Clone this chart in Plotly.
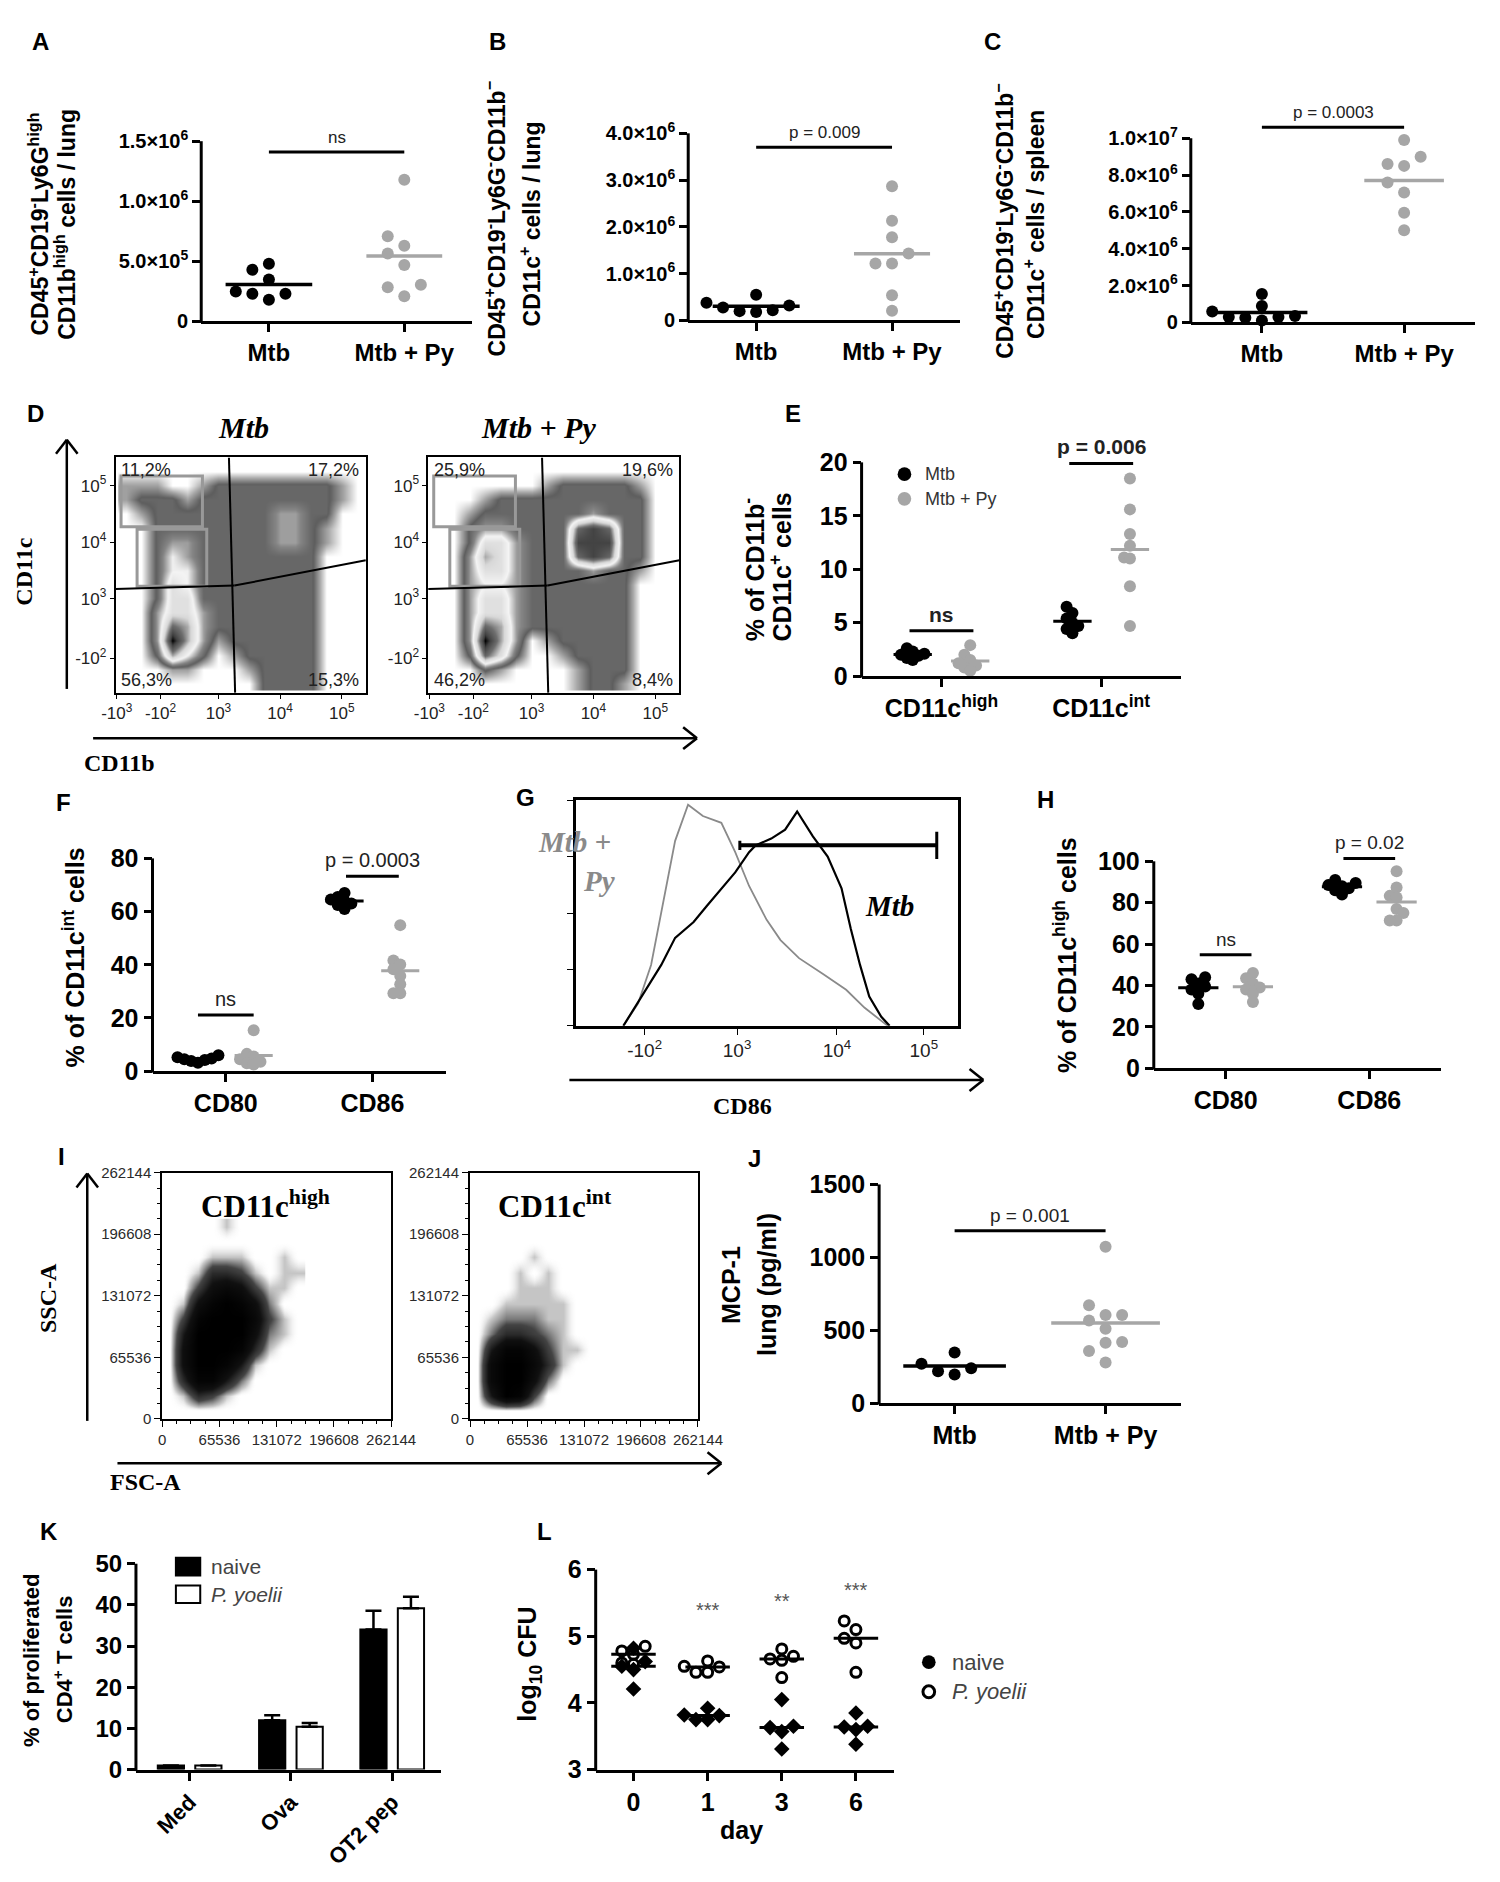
import math
import statistics
import plotly.graph_objects as go

# ======================= DATA =======================
cat_labels = ["Mtb", "Mtb + Py"]

# A: CD45+CD19-Ly6G-high CD11b-high cells / lung
A_mtb = [4.8e5, 4.3e5, 3.5e5, 2.3e5, 2.3e5, 2.5e5, 1.8e5]
A_py = [11.8e5, 7.1e5, 6.3e5, 5.65e5, 4.7e5, 3.05e5, 2.85e5, 2.1e5]
A_ticks = [0, 5e5, 1e6, 1.5e6]
A_ticktext = ["0", "5.0×10<sup>5</sup>", "1.0×10<sup>6</sup>", "1.5×10<sup>6</sup>"]
A_sig = ("ns", 1.41e6)

# B: CD11c+ cells / lung
B_mtb = [0.55e6, 0.38e6, 0.32e6, 0.28e6, 0.22e6, 0.20e6, 0.18e6]
B_py = [2.87e6, 2.13e6, 1.78e6, 1.43e6, 1.22e6, 1.22e6, 0.54e6, 0.21e6]
B_ticks = [0, 1e6, 2e6, 3e6, 4e6]
B_ticktext = ["0", "1.0×10<sup>6</sup>", "2.0×10<sup>6</sup>", "3.0×10<sup>6</sup>", "4.0×10<sup>6</sup>"]
B_sig = ("p = 0.009", 3.7e6)

# C: CD11c+ cells / spleen
C_mtb = [1.55e6, 0.9e6, 0.6e6, 0.35e6, 0.25e6, 0.3e6, 0.1e6, 0.3e6]
C_py = [9.9e6, 9.0e6, 8.6e6, 8.5e6, 7.6e6, 7.05e6, 5.95e6, 5.0e6]
C_ticks = [0, 2e6, 4e6, 6e6, 8e6, 1e7]
C_ticktext = ["0", "2.0×10<sup>6</sup>", "4.0×10<sup>6</sup>", "6.0×10<sup>6</sup>",
              "8.0×10<sup>6</sup>", "1.0×10<sup>7</sup>"]
C_sig = ("p = 0.0003", 1.06e7)

# D: flow density (estimated relative density on a grid, rows listed top -> bottom)
D_x = [1.5, 1.75, 2.0, 2.25, 2.5, 2.75, 3.0, 3.25, 3.5, 3.75, 4.0, 4.25, 4.5, 4.75, 5.0, 5.25]
D_y_top_down = [5.25, 5.0, 4.75, 4.5, 4.25, 4.0, 3.75, 3.5, 3.25, 3.0, 2.75, 2.5, 2.25, 2.0, 1.75, 1.5]
D_mtb = [
    [0, 0, 0, 0, 0, 0, 0, 0, 0, 0, 0, 0, 0, 0, 0, 0],
    [1, 1, 1, 0, 0, 1, 2, 2, 2, 2, 2, 2, 2, 2, 1, 0],
    [1, 2, 2, 2, 1, 2, 2, 2, 2, 2, 2, 2, 2, 2, 1, 0],
    [0, 1, 2, 2, 2, 2, 2, 2, 2, 2, 3, 3, 2, 2, 0, 0],
    [0, 0, 2, 2, 2, 2, 2, 2, 2, 2, 3, 3, 2, 1, 0, 0],
    [0, 0, 2, 3, 3, 2, 2, 2, 2, 2, 3, 3, 2, 1, 0, 0],
    [0, 0, 2, 4, 3, 2, 2, 2, 2, 2, 2, 2, 2, 0, 0, 0],
    [0, 0, 2, 4, 4, 2, 2, 2, 2, 2, 2, 2, 2, 0, 0, 0],
    [0, 0, 2, 5, 4, 2, 2, 2, 2, 2, 2, 2, 2, 0, 0, 0],
    [0, 0, 2, 5, 5, 2, 2, 2, 2, 2, 2, 2, 2, 0, 0, 0],
    [0, 0, 3, 5, 5, 3, 2, 2, 2, 2, 2, 2, 2, 0, 0, 0],
    [0, 0, 3, 7, 6, 3, 2, 2, 2, 2, 2, 2, 2, 0, 0, 0],
    [0, 0, 3, 9, 6, 3, 1, 2, 2, 2, 2, 2, 2, 0, 0, 0],
    [0, 0, 2, 6, 4, 2, 0, 1, 2, 2, 2, 2, 2, 0, 0, 0],
    [0, 0, 0, 1, 1, 0, 0, 0, 1, 2, 2, 2, 2, 0, 0, 0],
    [0, 0, 0, 0, 0, 0, 0, 0, 0, 2, 2, 2, 2, 0, 0, 0],
]
D_py = [
    [0, 0, 0, 0, 0, 0, 0, 0, 0, 0, 0, 0, 0, 0, 0, 0],
    [0, 0, 0, 0, 0, 0, 0, 1, 2, 2, 2, 2, 2, 1, 0, 0],
    [0, 0, 0, 1, 2, 2, 2, 2, 2, 2, 2, 2, 2, 2, 0, 0],
    [0, 0, 1, 2, 2, 2, 2, 2, 2, 2, 3, 2, 2, 2, 0, 0],
    [0, 0, 2, 3, 3, 2, 2, 2, 2, 7, 8, 7, 2, 2, 0, 0],
    [0, 0, 2, 5, 5, 3, 2, 2, 2, 8, 8, 8, 2, 2, 0, 0],
    [0, 0, 3, 6, 5, 3, 2, 2, 2, 7, 8, 7, 2, 2, 0, 0],
    [0, 0, 3, 5, 5, 3, 2, 2, 2, 2, 3, 2, 2, 1, 0, 0],
    [0, 0, 3, 4, 4, 3, 2, 2, 2, 2, 2, 2, 2, 0, 0, 0],
    [0, 0, 3, 5, 5, 3, 2, 2, 2, 2, 2, 2, 2, 0, 0, 0],
    [0, 0, 3, 5, 5, 3, 2, 2, 2, 2, 2, 2, 2, 0, 0, 0],
    [0, 0, 3, 7, 6, 3, 2, 2, 2, 2, 2, 2, 2, 0, 0, 0],
    [0, 0, 3, 9, 6, 3, 0, 1, 2, 2, 2, 2, 2, 0, 0, 0],
    [0, 0, 2, 7, 5, 2, 0, 0, 1, 2, 2, 2, 2, 0, 0, 0],
    [0, 0, 0, 2, 1, 0, 0, 0, 0, 1, 2, 2, 2, 0, 0, 0],
    [0, 0, 0, 0, 0, 0, 0, 0, 0, 1, 2, 2, 1, 0, 0, 0],
]
D_xtick_vals = [1.35, 2.06, 3, 4, 5]
D_xtick_text = ["-10<sup>3</sup>", "-10<sup>2</sup>", "10<sup>3</sup>", "10<sup>4</sup>", "10<sup>5</sup>"]
D_ytick_vals = [1.94, 3, 4, 5]
D_ytick_text = ["-10<sup>2</sup>", "10<sup>3</sup>", "10<sup>4</sup>", "10<sup>5</sup>"]
D_pct_mtb = ["11,2%", "17,2%", "56,3%", "15,3%"]
D_pct_py = ["25,9%", "19,6%", "46,2%", "8,4%"]
D_gate_high = (1.42, 2.74, 4.27, 5.17)
D_gate_int = (1.68, 2.81, 3.22, 4.23)
D_quad_v = [(3.17, 5.5), (3.27, 1.33)]
D_quad_h = [(1.33, 3.17), (3.26, 3.23), (5.39, 3.68)]

# E: % of CD11b- CD11c+ cells
E_cats = ["CD11c<sup>high</sup>", "CD11c<sup>int</sup>"]
E_high_mtb = [2.6, 2.3, 2.1, 2.0, 1.9, 1.7, 1.5]
E_high_py = [2.9, 2.0, 1.5, 1.2, 1.0, 0.8, 0.5]
E_int_mtb = [6.5, 5.9, 5.4, 5.0, 4.7, 4.4, 4.0]
E_int_py = [18.5, 15.6, 13.3, 12.2, 11.1, 11.0, 8.4, 4.7]
E_sig = [("ns", 4.24), ("p = 0.006", 19.9)]

# F: % of CD11c-int cells
F_cats = ["CD80", "CD86"]
F_cd80_mtb = [6.0, 5.2, 4.8, 4.5, 4.2, 3.8, 3.2]
F_cd80_py = [15.4, 6.5, 5.5, 4.5, 3.5, 3.0, 2.5]
F_cd86_mtb = [67, 65.5, 64.5, 64, 63, 62.5, 61]
F_cd86_py = [54.9, 41.6, 40.1, 38.3, 35.8, 32.7, 29.3, 29.3]
F_sig = [("ns", 21.1), ("p = 0.0003", 73.3)]

# G: CD86 histograms (% of max)
G_mtb_x = [0.77, 0.97, 1.18, 1.33, 1.53, 1.67, 1.83, 1.98, 2.13, 2.2, 2.37, 2.52, 2.65,
           2.82, 2.98, 3.13, 3.23, 3.33, 3.43, 3.56, 3.65]
G_mtb_y = [0, 13, 27, 39, 46, 53, 61, 68, 77, 80, 83, 87, 95, 84, 75, 61, 43, 27, 13, 4, 0]
G_py_x = [0.77, 0.93, 1.07, 1.22, 1.33, 1.47, 1.63, 1.83, 1.98, 2.13, 2.32, 2.47, 2.67,
          2.93, 3.18, 3.38, 3.53, 3.63]
G_py_y = [0, 10, 27, 59, 82, 98, 93, 90, 77, 62, 47, 38, 30, 23, 16, 8, 3, 0]
G_tick_vals = [1, 2, 3.08, 4.02]
G_tick_text = ["-10<sup>2</sup>", "10<sup>3</sup>", "10<sup>4</sup>", "10<sup>5</sup>"]
G_gate = (2.03, 4.16, 80)

# H: % of CD11c-high cells
H_cd80_mtb = [44, 43, 41, 39.5, 38, 36, 31]
H_cd80_py = [46, 43.5, 41, 39, 38, 36, 32]
H_cd86_mtb = [91, 89.5, 88.5, 88, 87, 86, 84]
H_cd86_py = [95.2, 87.3, 83.3, 82.5, 77, 75, 71.4, 71.4]
H_sig = [("ns", 54.8), ("p = 0.02", 101.4)]

# I: FSC/SSC density (bins of 16384, rows bottom -> top)
I_x = [8192, 24576, 40960, 57344, 73728, 90112, 106496, 122880, 139264, 155648]
I_y = [8192, 24576, 40960, 57344, 73728, 90112, 106496, 122880, 139264, 155648,
       172032, 188416, 204800]
I_high = [
    [0, 0, 0, 0, 0, 0, 0, 0, 0, 0],
    [0, 1, 4, 3, 1, 0, 0, 0, 0, 0],
    [0, 4, 8, 8, 5, 2, 0, 0, 0, 0],
    [0, 6, 9, 9, 8, 5, 1, 0, 0, 0],
    [0, 6, 9, 9, 9, 8, 4, 1, 0, 0],
    [0, 5, 9, 9, 9, 9, 6, 2, 1, 0],
    [0, 3, 8, 9, 9, 9, 7, 3, 1, 0],
    [0, 1, 6, 8, 9, 8, 6, 2, 0, 0],
    [0, 0, 3, 6, 7, 6, 3, 1, 1, 0],
    [0, 0, 1, 4, 4, 3, 1, 0, 1, 1],
    [0, 0, 0, 1, 1, 1, 0, 0, 1, 0],
    [0, 0, 0, 0, 0, 0, 0, 0, 0, 0],
    [0, 0, 0, 0, 1, 0, 0, 0, 0, 0],
]
I_int = [
    [0, 0, 0, 0, 0, 0, 0, 0, 0, 0],
    [0, 5, 9, 8, 3, 0, 0, 0, 0, 0],
    [0, 7, 9, 9, 6, 2, 0, 0, 0, 0],
    [0, 7, 9, 9, 7, 4, 1, 0, 0, 0],
    [0, 5, 8, 8, 6, 3, 1, 1, 0, 0],
    [0, 2, 4, 4, 3, 2, 1, 0, 0, 0],
    [0, 1, 2, 2, 2, 1, 1, 0, 0, 0],
    [0, 0, 1, 1, 1, 1, 1, 0, 0, 0],
    [0, 0, 0, 1, 1, 1, 0, 0, 0, 0],
    [0, 0, 0, 1, 0, 1, 0, 0, 0, 0],
    [0, 0, 0, 0, 1, 0, 0, 0, 0, 0],
    [0, 0, 0, 0, 0, 0, 0, 0, 0, 0],
    [0, 0, 0, 0, 0, 0, 0, 0, 0, 0],
]

# J: MCP-1 lung (pg/ml)
J_mtb = [348, 240, 196, 218, 270]
J_py = [1073, 672, 605, 605, 567, 510, 414, 420, 358, 279]
J_sig = ("p = 0.001", 1182)

# K: % proliferated CD4+ T cells
K_cats = ["Med", "Ova", "OT2 pep"]
K_naive = [1.0, 12.0, 34.0]
K_naive_err = [0.0, 1.2, 4.6]
K_py = [1.0, 10.4, 39.2]
K_py_err = [0.0, 0.9, 2.8]

# L: log10 CFU
L_days = ["0", "1", "3", "6"]
L_naive = [[4.82, 4.62, 4.55, 4.5, 4.21],
           [3.92, 3.82, 3.81, 3.75, 3.75],
           [4.05, 3.65, 3.63, 3.57, 3.31],
           [3.85, 3.65, 3.64, 3.6, 3.38]]
L_py = [[4.85, 4.78, 4.73, 4.6, 4.58],
        [4.63, 4.55, 4.54, 4.46, 4.46],
        [4.81, 4.7, 4.66, 4.64, 4.38],
        [5.23, 5.1, 4.97, 4.9, 4.46]]
L_stars = ["", "***", "**", "***"]
L_star_y = [None, 5.4, 5.53, 5.69]

# ======================= STYLE / HELPERS =======================
W, H = 1500, 1882
SANS = "Liberation Sans Narrow, Arial Narrow, Liberation Sans, Arial, sans-serif"
SANSW = "Liberation Sans, Arial, sans-serif"
SERIF = "Liberation Serif, Times New Roman, serif"
GRAY = "#a6a6a6"
ROT_DX = -19   # compensation for rotated annotation placement

layout = dict(width=W, height=H, margin=dict(l=0, r=0, t=0, b=0),
              paper_bgcolor="white", plot_bgcolor="rgba(0,0,0,0)", showlegend=False,
              barmode="group", bargap=0.26, bargroupgap=0.3, hovermode=False)
shapes, annos, traces = [], [], []
_n = [0]


def px(x):
    return x / W


def py(y):
    return 1 - y / H


def new_axes(x0, x1, ytop, ybot, xo, yo):
    _n[0] += 1
    s = "" if _n[0] == 1 else str(_n[0])
    layout["xaxis" + s] = dict(domain=[px(x0), px(x1)], anchor="y" + s, **xo)
    layout["yaxis" + s] = dict(domain=[py(ybot), py(ytop)], anchor="x" + s, **yo)
    return "x" + s, "y" + s


def text(x, y, t, size, family=SANSW, color="black", bold=True, italic=False,
         xanchor="center", yanchor="middle", angle=0):
    if angle:
        x = x + ROT_DX
    annos.append(dict(xref="paper", yref="paper", x=px(x), y=py(y), text=t, showarrow=False,
                      xanchor=xanchor, yanchor=yanchor, textangle=angle,
                      font=dict(family=family, size=size, color=color,
                                weight="bold" if bold else "normal",
                                style="italic" if italic else "normal")))


def pline(x0, y0, x1, y1, w=2.5, color="black"):
    shapes.append(dict(type="line", xref="paper", yref="paper", x0=px(x0), y0=py(y0),
                       x1=px(x1), y1=py(y1), line=dict(color=color, width=w)))


def arrow(x0, y0, x1, y1, w=2.5, head=18):
    pline(x0, y0, x1, y1, w)
    ang = math.atan2(y1 - y0, x1 - x0)
    for sgn in (1, -1):
        a = ang + math.pi + sgn * math.radians(38)
        pline(x1, y1, x1 + head * math.cos(a), y1 + head * math.sin(a), w)


def swarm(vals, thr, step):
    order = sorted(range(len(vals)), key=lambda i: vals[i])
    placed, offs = [], [0.0] * len(vals)
    for i in order:
        v, k, done = vals[i], 0, False
        while not done:
            for c in ([0] if k == 0 else [-k, k]):
                o = c * step
                if all(abs(v - pv) >= thr or abs(o - po) > step * 0.5 for pv, po in placed):
                    offs[i] = o
                    placed.append((v, o))
                    done = True
                    break
            k += 1
    return offs


def prism(x0, x1, zero, top, ymin, ytop, yext, xr, yt, ytt, cpos, ctext,
          tsize=24, csize=24, tfam=SANS, cfam=SANS, tickangle=0):
    ppy = (zero - top) / (ytop - ymin)
    ext_px = zero - (yext - ymin) * ppy
    ppx = (x1 - x0) / (xr[1] - xr[0])
    xo = dict(range=xr, showline=True, linewidth=3, linecolor="black", ticks="outside",
              tickwidth=3, ticklen=8, tickcolor="black", tickmode="array", tickvals=cpos,
              ticktext=ctext, tickangle=tickangle,
              tickfont=dict(family=cfam, size=csize, color="black", weight="bold"),
              showgrid=False, zeroline=False)
    yo = dict(range=[ymin, yext], showline=False, ticks="outside", tickwidth=3, ticklen=8,
              tickcolor="black", tickmode="array", tickvals=yt, ticktext=ytt,
              tickfont=dict(family=tfam, size=tsize, color="black", weight="bold"),
              showgrid=False, zeroline=False)
    xa, ya = new_axes(x0, x1, ext_px, zero, xo, yo)
    pline(x0, zero + 1.5, x0, top, 3)
    return dict(xa=xa, ya=ya, ppx=ppx, ppy=ppy)


def dots(P, xc, vals, color, thr_px=12, step_px=16, size=12, symbol="circle", hollow=False):
    offs = swarm(vals, thr_px / P["ppy"], step_px / P["ppx"])
    if hollow:
        marker = dict(size=size, symbol="circle-open", color=color, line=dict(width=3, color=color))
    else:
        marker = dict(size=size, symbol=symbol, color=color, line=dict(width=0))
    traces.append(go.Scatter(x=[xc + o for o in offs], y=vals, mode="markers", marker=marker,
                             xaxis=P["xa"], yaxis=P["ya"], cliponaxis=False, hoverinfo="skip"))


def cline(P, xc, half, v, color, w=3.5):
    shapes.append(dict(type="line", xref=P["xa"], yref=P["ya"], x0=xc - half, x1=xc + half,
                       y0=v, y1=v, line=dict(color=color, width=w)))


def sig(P, xl, xr_, y, t, size=18, bold=False):
    shapes.append(dict(type="line", xref=P["xa"], yref=P["ya"], x0=xl, x1=xr_, y0=y, y1=y,
                       line=dict(color="black", width=3)))
    annos.append(dict(xref=P["xa"], yref=P["ya"], x=(xl + xr_) / 2, y=y, text=t, showarrow=False,
                      yanchor="bottom", yshift=3,
                      font=dict(family=SANS, size=size, color="#222",
                                weight="bold" if bold else "normal")))


mean = statistics.mean
median = statistics.median

# ======================= A, B, C =======================
for (x0, x1, zero, top, ytop, yext, yt, ytt, mtb, pyv, sg) in [
        (184, 462, 304, 121, 1.5e6, 1.5e6, A_ticks, A_ticktext, A_mtb, A_py, A_sig),
        (684, 963, 303, 113, 4e6, 4e6, B_ticks, B_ticktext, B_mtb, B_py, B_sig),
        (1200, 1492, 305, 118, 1e7, 1.08e7, C_ticks, C_ticktext, C_mtb, C_py, C_sig)]:
    P = prism(x0, x1, zero, top, 0, ytop, yext, [0.5, 2.5], yt, ytt, [1, 2], cat_labels,
              tsize=20, csize=24)
    dots(P, 1, mtb, "black", 12, 17, 12)
    dots(P, 2, pyv, GRAY, 12, 17, 12)
    cline(P, 1, 0.32, mean(mtb), "black")
    cline(P, 2, 0.28, mean(pyv), GRAY)
    sig(P, 1, 2, sg[1], sg[0], 17)

text(19, 20, "A", 24)
text(488, 20, "B", 24)
text(996, 20, "C", 24)
text(36, 205, "CD45<sup>+</sup>CD19<sup>-</sup>Ly6G<sup>high</sup>", 23, angle=-90)
text(63, 205, "CD11b<sup>high</sup> cells / lung", 23, angle=-90)
text(505, 200, "CD45<sup>+</sup>CD19<sup>-</sup>Ly6G<sup>-</sup>CD11b<sup>−</sup>", 23, angle=-90)
text(541, 205, "CD11c<sup>+</sup> cells / lung", 23, angle=-90)
text(1027, 202, "CD45<sup>+</sup>CD19<sup>-</sup>Ly6G<sup>-</sup>CD11b<sup>−</sup>", 23, angle=-90)
text(1058, 205, "CD11c<sup>+</sup> cells / spleen", 23, angle=-90)

# ======================= D =======================
CS_D = [[0, "#ffffff"], [0.1, "#a8a8a8"], [0.2, "#5e5e5e"], [0.3, "#858585"],
        [0.45, "#f4f4f4"], [0.6, "#d8d8d8"], [0.75, "#6e6e6e"], [0.9, "#404040"], [1, "#000000"]]
D_y = D_y_top_down[::-1]
for (bx0, bx1, grid, pcts, title, tx) in [(96, 353, D_mtb, D_pct_mtb, "Mtb", 227),
                                          (417, 675, D_py, D_pct_py, "Mtb + Py", 530)]:
    xo = dict(range=[1.33, 5.39], showline=True, mirror=True, linewidth=1.5, linecolor="black",
              ticks="outside", ticklen=4, tickcolor="black", tickmode="array",
              tickvals=D_xtick_vals, ticktext=D_xtick_text, tickangle=0,
              tickfont=dict(family=SANS, size=17, color="#222"), showgrid=False, zeroline=False)
    yo = dict(range=[1.33, 5.5], showline=True, mirror=True, linewidth=1.5, linecolor="black",
              ticks="outside", ticklen=4, tickcolor="black", tickmode="array",
              tickvals=D_ytick_vals, ticktext=D_ytick_text,
              tickfont=dict(family=SANS, size=17, color="#222"), showgrid=False, zeroline=False)
    xa, ya = new_axes(bx0, bx1, 442, 681, xo, yo)
    traces.append(go.Heatmap(x=D_x, y=D_y, z=grid[::-1], xaxis=xa, yaxis=ya, zsmooth="best",
                             colorscale=CS_D, zmin=0, zmax=9, showscale=False, hoverinfo="skip"))
    for (gx0, gx1, gy0, gy1) in (D_gate_high, D_gate_int):
        shapes.append(dict(type="rect", xref=xa, yref=ya, x0=gx0, x1=gx1, y0=gy0, y1=gy1,
                           line=dict(color="#999999", width=3)))
    shapes.append(dict(type="line", xref=xa, yref=ya, x0=D_quad_v[0][0], y0=D_quad_v[0][1],
                       x1=D_quad_v[1][0], y1=D_quad_v[1][1], line=dict(color="black", width=2)))
    for a, b in zip(D_quad_h[:-1], D_quad_h[1:]):
        shapes.append(dict(type="line", xref=xa, yref=ya, x0=a[0], y0=a[1], x1=b[0], y1=b[1],
                           line=dict(color="black", width=2)))
    text(bx0 + 4, 455, pcts[0], 18, SANS, "#222", False, xanchor="left")
    text(bx1 - 5, 455, pcts[1], 18, SANS, "#222", False, xanchor="right")
    text(bx0 + 4, 668, pcts[2], 18, SANS, "#222", False, xanchor="left")
    text(bx1 - 5, 668, pcts[3], 18, SANS, "#222", False, xanchor="right")
    text(tx, 412, title, 30, SERIF, italic=True)

text(14, 397, "D", 24)
arrow(46, 677, 46, 424)
text(21, 558, "CD11c", 24, SERIF, angle=-90)
arrow(73, 727, 693, 727)
text(100, 752, "CD11b", 24, SERIF)

# ======================= E =======================
P = prism(862, 1190, 664, 447, 0, 20, 20.5, [0.5, 2.5], [0, 5, 10, 15, 20],
          ["0", "5", "10", "15", "20"], [1, 2], E_cats, tsize=25, csize=25)
for xc, vals, col in [(0.82, E_high_mtb, "black"), (1.18, E_high_py, GRAY),
                      (1.82, E_int_mtb, "black"), (2.18, E_int_py, GRAY)]:
    dots(P, xc, vals, col, 8, 6, 12)
    cline(P, xc, 0.12, mean(vals), col, 3)
sig(P, 0.8, 1.2, E_sig[0][1], E_sig[0][0], 21, True)
sig(P, 1.8, 2.2, E_sig[1][1], E_sig[1][0], 21, True)
text(792, 397, "E", 24)
text(770, 555, "% of CD11b<sup>-</sup>", 25, angle=-90)
text(798, 553, "CD11c<sup>+</sup> cells", 25, angle=-90)
for yy, col, lab in [(459, "black", "Mtb"), (484, GRAY, "Mtb + Py")]:
    shapes.append(dict(type="circle", xref="paper", yref="paper", x0=px(899), x1=px(913),
                       y0=py(yy + 7), y1=py(yy - 7), fillcolor=col, line=dict(width=0)))
    text(925, yy, lab, 18, SANS, "#333", False, xanchor="left")

# ======================= F =======================
P = prism(134, 435, 1065, 849, 0, 80, 80, [0.5, 2.5], [0, 20, 40, 60, 80],
          ["0", "20", "40", "60", "80"], [1, 2], F_cats, tsize=25, csize=25)
for xc, vals, col in [(0.81, F_cd80_mtb, "black"), (1.19, F_cd80_py, GRAY),
                      (1.81, F_cd86_mtb, "black"), (2.19, F_cd86_py, GRAY)]:
    dots(P, xc, vals, col, 8, 7, 12)
    cline(P, xc, 0.13, mean(vals), col, 3)
sig(P, 0.81, 1.19, F_sig[0][1], F_sig[0][0], 20)
sig(P, 1.82, 2.18, F_sig[1][1], F_sig[1][0], 20)
text(43, 792, "F", 24)
text(72, 950, "% of CD11c<sup>int</sup> cells", 25, angle=-90)

# ======================= G =======================
xo = dict(range=[0.26, 4.39], showline=True, mirror=True, linewidth=2.5, linecolor="black",
          ticks="outside", ticklen=6, tickcolor="black", tickmode="array",
          tickvals=G_tick_vals, ticktext=G_tick_text, tickangle=0,
          tickfont=dict(family=SANS, size=19, color="#222"), showgrid=False, zeroline=False)
yo = dict(range=[0, 100], showline=True, mirror=True, linewidth=2.5, linecolor="black",
          ticks="outside", ticklen=6, tickcolor="black", tickvals=[0, 25, 50, 75, 100],
          showticklabels=False, showgrid=False, zeroline=False)
gx, gy = new_axes(569, 961, 790, 1019, xo, yo)
traces.append(go.Scatter(x=G_py_x, y=G_py_y, mode="lines", line=dict(color="#8a8a8a", width=1.8),
                         xaxis=gx, yaxis=gy, hoverinfo="skip"))
traces.append(go.Scatter(x=G_mtb_x, y=G_mtb_y, mode="lines", line=dict(color="black", width=2.2),
                         xaxis=gx, yaxis=gy, hoverinfo="skip"))
shapes.append(dict(type="line", xref=gx, yref=gy, x0=G_gate[0], x1=G_gate[1], y0=G_gate[2],
                   y1=G_gate[2], line=dict(color="black", width=4)))
shapes.append(dict(type="line", xref=gx, yref=gy, x0=G_gate[1], x1=G_gate[1], y0=G_gate[2] - 6,
                   y1=G_gate[2] + 6, line=dict(color="black", width=3)))
shapes.append(dict(type="line", xref=gx, yref=gy, x0=G_gate[0], x1=G_gate[0], y0=G_gate[2] - 2,
                   y1=G_gate[2] + 2, line=dict(color="black", width=3)))
text(517, 787, "G", 24)
text(567, 832, "Mtb +", 29, SERIF, "#8a8a8a", italic=True)
text(592, 872, "Py", 29, SERIF, "#8a8a8a", italic=True)
text(891, 897, "Mtb", 29, SERIF, italic=True)
arrow(562, 1074, 987, 1074)
text(740, 1100, "CD86", 24, SERIF)

# ======================= H =======================
P = prism(1162, 1457, 1062, 852, 0, 100, 103, [0.5, 2.5], [0, 20, 40, 60, 80, 100],
          ["0", "20", "40", "60", "80", "100"], [1, 2], F_cats, tsize=25, csize=25)
for xc, vals, col in [(0.81, H_cd80_mtb, "black"), (1.19, H_cd80_py, GRAY),
                      (1.81, H_cd86_mtb, "black"), (2.19, H_cd86_py, GRAY)]:
    dots(P, xc, vals, col, 8, 7, 12)
    cline(P, xc, 0.14, mean(vals), col, 3)
sig(P, 0.82, 1.18, H_sig[0][1], H_sig[0][0], 19)
sig(P, 1.82, 2.18, H_sig[1][1], H_sig[1][0], 19)
text(1051, 789, "H", 24)
text(1090, 947, "% of CD11c<sup>high</sup> cells", 25, angle=-90)

# ======================= I =======================
CS_I = [[0, "rgba(255,255,255,0)"], [0.1, "#cdcdcd"], [0.3, "#444444"], [0.6, "#111111"],
        [1, "#000000"]]
for (bx0, bx1, grid, lab, lx) in [(144, 379, I_high, "CD11c<sup>high</sup>", 250),
                                  (460, 694, I_int, "CD11c<sup>int</sup>", 547)]:
    common = dict(range=[0, 262144], showline=True, mirror=True, linewidth=2, linecolor="black",
                  ticks="outside", ticklen=6, tickcolor="black", tickmode="linear", tick0=0,
                  dtick=65536, tickformat="d", tickangle=0,
                  minor=dict(ticks="outside", ticklen=3, dtick=16384, tickcolor="black"),
                  tickfont=dict(family=SANS, size=15, color="#2a2a2a"), showgrid=False,
                  zeroline=False)
    xa, ya = new_axes(bx0, bx1, 1168, 1418, dict(common), dict(common))
    traces.append(go.Heatmap(x=I_x, y=I_y, z=grid, xaxis=xa, yaxis=ya, zsmooth="best",
                             colorscale=CS_I, zmin=0, zmax=9, showscale=False, hoverinfo="skip"))
    text(lx, 1200, lab, 31, SERIF)
text(41, 1152, "I", 24)
arrow(67, 1420, 67, 1169)
text(45, 1295, "SSC-A", 24, SERIF, angle=-90)
arrow(98, 1463, 718, 1463)
text(127, 1482, "FSC-A", 24, SERIF)

# ======================= J =======================
P = prism(880, 1190, 1402, 1180, 0, 1500, 1500, [0.5, 2.5], [0, 500, 1000, 1500],
          ["0", "500", "1000", "1500"], [1, 2], cat_labels, tsize=25, csize=25)
dots(P, 1, J_mtb, "black", 12, 17, 12)
dots(P, 2, J_py, GRAY, 12, 17, 12)
cline(P, 1, 0.34, mean(J_mtb), "black")
cline(P, 2, 0.36, mean(J_py), GRAY)
sig(P, 1, 2, J_sig[1], J_sig[0], 19)
text(752, 1154, "J", 24)
text(747, 1282, "MCP-1", 25, angle=-90)
text(784, 1282, "lung (pg/ml)", 25, angle=-90)

# ======================= K =======================
P = prism(117, 430, 1774, 1565, 0, 50, 50, [-0.53, 2.48], [0, 10, 20, 30, 40, 50],
          ["0", "10", "20", "30", "40", "50"], [0, 1, 2], K_cats, tsize=24, csize=22,
          tfam=SANSW, cfam=SANSW, tickangle=-45)
traces.append(go.Bar(x=[0, 1, 2], y=K_naive, xaxis=P["xa"], yaxis=P["ya"],
                     marker=dict(color="black", line=dict(color="black", width=2)),
                     error_y=dict(type="data", array=K_naive_err, arrayminus=[0, 0, 0],
                                  symmetric=False, thickness=2.5, width=8, color="black"),
                     hoverinfo="skip"))
traces.append(go.Bar(x=[0, 1, 2], y=K_py, xaxis=P["xa"], yaxis=P["ya"],
                     marker=dict(color="white", line=dict(color="black", width=2)),
                     error_y=dict(type="data", array=K_py_err, arrayminus=[0, 0, 0],
                                  symmetric=False, thickness=2.5, width=8, color="black"),
                     hoverinfo="skip"))
shapes.append(dict(type="rect", xref="paper", yref="paper", x0=px(158), x1=px(183),
                   y0=py(1577), y1=py(1559), fillcolor="black", line=dict(color="black", width=2)))
shapes.append(dict(type="rect", xref="paper", yref="paper", x0=px(158), x1=px(183),
                   y0=py(1605), y1=py(1587), fillcolor="white", line=dict(color="black", width=2)))
text(192, 1568, "naive", 21, SANSW, "#444", False, xanchor="left")
text(192, 1596, "<i>P. yoelii</i>", 21, SANSW, "#444", False, xanchor="left")
text(28, 1532, "K", 24)
text(28, 1663, "% of proliferated", 22, angle=-90)
text(61, 1662, "CD4<sup>+</sup> T cells", 22, angle=-90)

# ======================= L =======================
P = prism(589, 895, 1774, 1571, 3, 6, 6, [-0.51, 3.51], [3, 4, 5, 6], ["3", "4", "5", "6"],
          [0, 1, 2, 3], L_days, tsize=25, csize=25, tfam=SANSW, cfam=SANSW)
for i in range(len(L_days)):
    dots(P, i, L_naive[i], "black", 9, 12, 12, symbol="diamond")
    dots(P, i, L_py[i], "black", 9, 12, 10, hollow=True)
    cline(P, i, 0.3, median(L_naive[i]), "black", 3)
    cline(P, i, 0.3, median(L_py[i]), "black", 3)
    if L_stars[i]:
        annos.append(dict(xref=P["xa"], yref=P["ya"], x=i, y=L_star_y[i], text=L_stars[i],
                          showarrow=False, font=dict(family=SANSW, size=20, color="#555")))
text(536, 1532, "L", 24)
text(540, 1667, "log<sub>10</sub> CFU", 25, angle=-90)
text(739, 1835, "day", 25)
shapes.append(dict(type="circle", xref="paper", yref="paper", x0=px(924), x1=px(938),
                   y0=py(1672), y1=py(1658), fillcolor="black", line=dict(width=0)))
shapes.append(dict(type="circle", xref="paper", yref="paper", x0=px(925), x1=px(937),
                   y0=py(1701), y1=py(1689), fillcolor="white", line=dict(color="black", width=3)))
text(953, 1665, "naive", 22, SANSW, "#444", False, xanchor="left")
text(953, 1695, "<i>P. yoelii</i>", 22, SANSW, "#444", False, xanchor="left")

layout["shapes"] = shapes
layout["annotations"] = annos
fig = go.Figure(data=traces, layout=layout)
fig.write_html("out.html")
